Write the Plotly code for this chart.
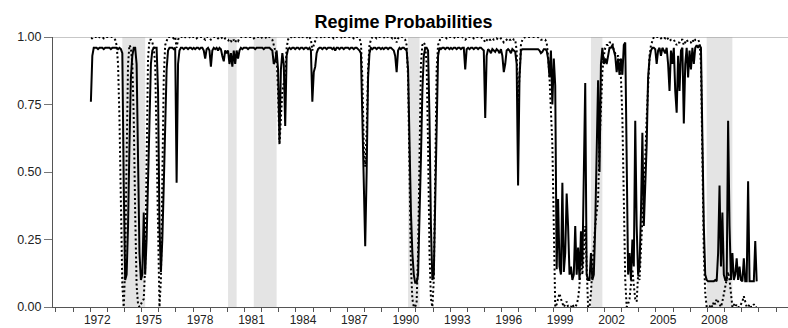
import plotly.graph_objects as go

# ---------------- data ----------------
start_year = 1972  # monthly observations, Jan 1972 .. Nov 2010

solid = [
    0.76, 0.93, 0.96, 0.96, 0.96, 0.955, 0.96, 0.96, 0.96, 0.955, 0.96, 0.96,   # 1972
    0.96, 0.96, 0.955, 0.96, 0.96, 0.96, 0.96, 0.955, 0.96, 0.955, 0.94, 0.45,  # 1973
    0.10, 0.12, 0.30, 0.60, 0.85, 0.93, 0.96, 0.96, 0.90, 0.55, 0.20, 0.10,     # 1974
    0.12, 0.35, 0.12, 0.25, 0.50, 0.75, 0.90, 0.95, 0.96, 0.96, 0.96, 0.80,     # 1975
    0.30, 0.13, 0.25, 0.45, 0.70, 0.88, 0.95, 0.96, 0.96, 0.96, 0.955, 0.96,    # 1976
    0.46, 0.90, 0.95, 0.96, 0.96, 0.955, 0.96, 0.96, 0.955, 0.96, 0.96, 0.955,  # 1977
    0.96, 0.955, 0.96, 0.96, 0.955, 0.96, 0.96, 0.95, 0.92, 0.955, 0.96, 0.95,  # 1978
    0.89, 0.95, 0.96, 0.955, 0.96, 0.95, 0.96, 0.955, 0.93, 0.91, 0.95, 0.94,   # 1979
    0.95, 0.90, 0.94, 0.89, 0.95, 0.90, 0.95, 0.92, 0.95, 0.96, 0.955, 0.96,    # 1980
    0.96, 0.96, 0.955, 0.96, 0.96, 0.96, 0.96, 0.955, 0.96, 0.96, 0.96, 0.96,   # 1981
    0.96, 0.955, 0.96, 0.96, 0.96, 0.96, 0.955, 0.95, 0.90, 0.91, 0.95, 0.88,   # 1982
    0.61, 0.88, 0.94, 0.90, 0.67, 0.93, 0.955, 0.96, 0.955, 0.96, 0.96, 0.955,  # 1983
    0.96, 0.96, 0.955, 0.96, 0.96, 0.955, 0.96, 0.96, 0.955, 0.96, 0.95, 0.76,  # 1984
    0.87, 0.89, 0.94, 0.955, 0.96, 0.96, 0.955, 0.96, 0.96, 0.955, 0.96, 0.96,  # 1985
    0.96, 0.955, 0.96, 0.95, 0.96, 0.96, 0.955, 0.96, 0.96, 0.955, 0.96, 0.96,  # 1986
    0.96, 0.955, 0.96, 0.96, 0.955, 0.96, 0.96, 0.955, 0.95, 0.94, 0.70, 0.39,  # 1987
    0.225, 0.50, 0.85, 0.94, 0.96, 0.955, 0.96, 0.96, 0.955, 0.96, 0.96, 0.955, # 1988
    0.96, 0.955, 0.96, 0.96, 0.955, 0.96, 0.96, 0.955, 0.95, 0.93, 0.87, 0.95,  # 1989
    0.96, 0.955, 0.96, 0.96, 0.955, 0.95, 0.88, 0.60, 0.35, 0.20, 0.12, 0.09,   # 1990
    0.09, 0.12, 0.30, 0.55, 0.80, 0.93, 0.96, 0.96, 0.95, 0.70, 0.30, 0.10,     # 1991
    0.12, 0.40, 0.75, 0.93, 0.96, 0.955, 0.96, 0.96, 0.955, 0.96, 0.96, 0.955,  # 1992
    0.96, 0.955, 0.96, 0.96, 0.955, 0.96, 0.96, 0.955, 0.96, 0.96, 0.88, 0.955, # 1993
    0.96, 0.955, 0.96, 0.96, 0.955, 0.96, 0.96, 0.955, 0.96, 0.96, 0.955, 0.95, # 1994
    0.70, 0.93, 0.955, 0.95, 0.94, 0.955, 0.95, 0.945, 0.955, 0.95, 0.94, 0.955, # 1995
    0.93, 0.87, 0.90, 0.95, 0.955, 0.95, 0.94, 0.955, 0.95, 0.945, 0.90, 0.45,  # 1996
    0.85, 0.95, 0.955, 0.955, 0.955, 0.955, 0.955, 0.955, 0.955, 0.955, 0.955, 0.955,  # 1997
    0.955, 0.955, 0.95, 0.94, 0.945, 0.955, 0.955, 0.95, 0.92, 0.85, 0.95, 0.75,  # 1998
    0.92, 0.82, 0.14, 0.40, 0.15, 0.12, 0.46, 0.13, 0.20, 0.42, 0.30, 0.12,     # 1999
    0.15, 0.10, 0.12, 0.30, 0.12, 0.22, 0.10, 0.28, 0.15, 0.45, 0.83, 0.12,     # 2000
    0.10, 0.10, 0.20, 0.10, 0.12, 0.30, 0.55, 0.84, 0.50, 0.90, 0.96, 0.90,     # 2001
    0.92, 0.90, 0.93, 0.96, 0.96, 0.97, 0.95, 0.93, 0.87, 0.92, 0.86, 0.92,     # 2002
    0.86, 0.97, 0.98, 0.50, 0.12, 0.20, 0.10, 0.25, 0.15, 0.69, 0.30, 0.12,     # 2003
    0.15, 0.35, 0.645, 0.30, 0.45, 0.60, 0.85, 0.92, 0.95, 0.96, 0.96, 0.955,   # 2004
    0.90, 0.95, 0.96, 0.93, 0.96, 0.95, 0.94, 0.96, 0.90, 0.80, 0.95, 0.90,     # 2005
    0.96, 0.80, 0.72, 0.93, 0.80, 0.95, 0.96, 0.68, 0.90, 0.96, 0.85, 0.95,     # 2006
    0.88, 0.96, 0.90, 0.96, 0.97, 0.96, 0.97, 0.96, 0.60, 0.30, 0.12, 0.10,     # 2007
    0.095, 0.095, 0.096, 0.095, 0.095, 0.10, 0.096, 0.20, 0.45, 0.15, 0.35, 0.12,  # 2008
    0.10, 0.10, 0.69, 0.30, 0.10, 0.20, 0.10, 0.12, 0.18, 0.10, 0.15, 0.10,     # 2009
    0.095, 0.18, 0.095, 0.095, 0.466, 0.095, 0.095, 0.095, 0.095, 0.244, 0.095, # 2010
]

dotted = [
    0.995, 0.995, 1.0, 1.0, 1.0, 0.995, 1.0, 1.0, 1.0, 0.995, 1.0, 1.0,      # 1972
    1.0, 1.0, 1.0, 1.0, 0.995, 0.99, 0.97, 0.90, 0.70, 0.35, 0.08, 0.0,      # 1973
    0.15, 0.55, 0.90, 0.97, 0.96, 0.90, 0.70, 0.35, 0.08, 0.01, 0.0, 0.01,   # 1974
    0.02, 0.03, 0.15, 0.60, 0.92, 0.99, 0.99, 0.98, 0.96, 0.90, 0.60, 0.15,  # 1975
    0.0, 0.10, 0.45, 0.85, 0.97, 0.99, 1.0, 1.0, 1.0, 1.0, 0.995, 1.0,       # 1976
    0.96, 0.99, 1.0, 1.0, 1.0, 0.995, 1.0, 1.0, 1.0, 1.0, 0.995, 1.0,        # 1977
    1.0, 1.0, 0.995, 1.0, 1.0, 1.0, 1.0, 0.995, 0.99, 1.0, 1.0, 0.995,       # 1978
    0.99, 0.995, 1.0, 1.0, 1.0, 0.995, 1.0, 1.0, 0.995, 0.99, 0.995, 0.99,   # 1979
    0.99, 0.98, 0.985, 0.98, 0.99, 0.98, 0.99, 0.985, 0.995, 1.0, 1.0, 1.0,  # 1980
    1.0, 1.0, 1.0, 1.0, 1.0, 1.0, 0.995, 1.0, 1.0, 1.0, 1.0, 0.995,          # 1981
    1.0, 1.0, 1.0, 0.995, 1.0, 1.0, 0.995, 0.99, 0.97, 0.95, 0.93, 0.80,     # 1982
    0.60, 0.70, 0.80, 0.83, 0.85, 0.96, 0.99, 1.0, 1.0, 0.995, 1.0, 1.0,     # 1983
    1.0, 1.0, 1.0, 0.995, 1.0, 1.0, 1.0, 1.0, 0.995, 1.0, 0.99, 0.95,        # 1984
    0.97, 0.99, 1.0, 1.0, 1.0, 1.0, 0.995, 1.0, 1.0, 1.0, 1.0, 1.0,          # 1985
    1.0, 1.0, 0.995, 1.0, 1.0, 1.0, 1.0, 1.0, 0.995, 1.0, 1.0, 1.0,          # 1986
    1.0, 1.0, 1.0, 1.0, 0.995, 1.0, 1.0, 1.0, 0.995, 0.98, 0.85, 0.60,       # 1987
    0.52, 0.65, 0.88, 0.97, 0.99, 1.0, 1.0, 1.0, 0.995, 1.0, 1.0, 1.0,       # 1988
    1.0, 1.0, 0.995, 1.0, 1.0, 1.0, 1.0, 0.995, 1.0, 0.995, 0.98, 0.995,     # 1989
    1.0, 1.0, 1.0, 0.995, 0.99, 0.97, 0.85, 0.50, 0.15, 0.03, 0.0, 0.0,      # 1990
    0.02, 0.20, 0.60, 0.90, 0.97, 0.98, 0.97, 0.90, 0.60, 0.20, 0.03, 0.0,   # 1991
    0.10, 0.50, 0.88, 0.97, 0.99, 1.0, 1.0, 1.0, 1.0, 0.995, 1.0, 1.0,       # 1992
    1.0, 1.0, 1.0, 0.995, 1.0, 1.0, 1.0, 1.0, 1.0, 0.995, 0.99, 0.995,       # 1993
    1.0, 1.0, 1.0, 1.0, 0.995, 1.0, 1.0, 1.0, 1.0, 1.0, 0.995, 0.99,         # 1994
    0.98, 0.99, 0.995, 0.99, 0.99, 0.995, 0.99, 0.99, 0.995, 0.99, 0.99, 0.995,  # 1995
    0.985, 0.98, 0.985, 0.99, 0.995, 0.99, 0.99, 0.995, 0.99, 0.99, 0.95, 0.75,  # 1996
    0.85, 0.97, 0.99, 0.995, 1.0, 1.0, 1.0, 1.0, 1.0, 1.0, 1.0, 1.0,         # 1997
    1.0, 1.0, 0.995, 0.99, 0.99, 0.99, 0.99, 0.98, 0.93, 0.85, 0.72, 0.60,   # 1998
    0.30, 0.0, 0.01, 0.03, 0.05, 0.03, 0.01, 0.0, 0.01, 0.02, 0.0, 0.0,      # 1999
    0.0, 0.01, 0.0, 0.0, 0.01, 0.03, 0.08, 0.19, 0.12, 0.20, 0.30, 0.15,     # 2000
    0.0, 0.0, 0.05, 0.15, 0.25, 0.30, 0.35, 0.40, 0.60, 0.75, 0.87, 0.93,    # 2001
    0.96, 0.97, 0.97, 0.98, 0.98, 0.98, 0.95, 0.94, 0.93, 0.93, 0.92, 0.85,  # 2002
    0.70, 0.40, 0.10, 0.0, 0.01, 0.03, 0.10, 0.14, 0.08, 0.03, 0.02, 0.12,   # 2003
    0.10, 0.20, 0.30, 0.40, 0.55, 0.70, 0.85, 0.93, 0.97, 0.99, 1.0, 1.0,    # 2004
    1.0, 1.0, 1.0, 0.995, 1.0, 1.0, 0.995, 1.0, 0.99, 0.985, 0.99, 0.99,     # 2005
    0.99, 0.98, 0.97, 0.98, 0.98, 0.99, 0.99, 0.97, 0.98, 0.99, 0.98, 0.98,  # 2006
    0.98, 0.99, 0.98, 0.99, 0.99, 0.99, 0.98, 0.90, 0.55, 0.20, 0.05, 0.0,   # 2007
    0.0, 0.0, 0.01, 0.0, 0.02, 0.01, 0.03, 0.02, 0.01, 0.0, 0.02, 0.05,      # 2008
    0.07, 0.10, 0.13, 0.10, 0.04, 0.0, 0.01, 0.0, 0.01, 0.0, 0.0, 0.01,      # 2009
    0.02, 0.04, 0.02, 0.0, 0.0, 0.01, 0.0, 0.0, 0.01, 0.0, 0.0,              # 2010
]

# NBER recessions (decimal years: start of peak month, start of trough month)
rec_start = [1973 + 10/12, 1980.0, 1981 + 6/12, 1990 + 6/12, 2001 + 2/12, 2007 + 11/12]
rec_end = [1975 + 2/12, 1980 + 6/12, 1982 + 10/12, 1991 + 2/12, 2001 + 10/12, 2009 + 5/12]

label_years = list(range(1972, 2009, 3))
minor_years = list(range(1970, 2013))
y_ticks = [0.0, 0.25, 0.5, 0.75, 1.0]

# ---------------- figure ----------------
t_solid = [start_year + i / 12 for i in range(len(solid))]
t_dotted = [start_year + i / 12 for i in range(len(dotted))]

fig = go.Figure()
fig.add_trace(go.Scatter(x=t_solid, y=solid, mode="lines",
                         line=dict(color="black", width=2), hoverinfo="skip"))
fig.add_trace(go.Scatter(x=t_dotted, y=dotted, mode="lines",
                         line=dict(color="black", width=2, dash="2px,2.5px"), hoverinfo="skip"))

for a, b in zip(rec_start, rec_end):
    fig.add_shape(type="rect", xref="x", yref="paper", x0=a, x1=b, y0=0, y1=1,
                  fillcolor="#e4e4e4", line=dict(width=0), layer="below")

# top frame line
fig.add_shape(type="line", xref="paper", yref="y", x0=0, x1=1, y0=1, y1=1,
              line=dict(color="#8f8f8f", width=1), layer="below")

font_family = "Arial, Liberation Sans, sans-serif"

fig.update_layout(
    width=788, height=328,
    margin=dict(l=53, r=0, t=37, b=21, autoexpand=False),
    plot_bgcolor="white", paper_bgcolor="white",
    showlegend=False,
    title=dict(text="<b>Regime Probabilities</b>",
               font=dict(family=font_family, size=18, color="black"),
               x=403.5 / 788, xanchor="center", xref="container",
               y=1 - 21.5 / 328, yanchor="middle", yref="container",
               automargin=False),
    xaxis=dict(
        range=[1969.79, 2012.66],
        automargin=False,
        showgrid=False, zeroline=False,
        showline=True, linecolor="#555555", linewidth=1,
        tickmode="array",
        tickvals=[y + 0.37 for y in label_years],
        ticktext=[str(y) for y in label_years],
        ticks="", ticklabelstandoff=2,
        tickfont=dict(family=font_family, size=12, color="#222222"),
        minor=dict(tickmode="array", tickvals=[y - 0.04 for y in minor_years],
                   ticks="outside", ticklen=4, tickcolor="#555555", tickwidth=1,
                   showgrid=False),
        fixedrange=True,
    ),
    yaxis=dict(
        range=[0, 1],
        automargin=False,
        showgrid=False, zeroline=False,
        showline=True, linecolor="#555555", linewidth=1,
        tickmode="array", tickvals=y_ticks, tickformat=".2f",
        ticks="outside", ticklen=8, tickcolor="#777777", tickwidth=1,
        tickfont=dict(family=font_family, size=12.5, color="#222222"),
        fixedrange=True,
    ),
)

fig.write_html("out.html")
